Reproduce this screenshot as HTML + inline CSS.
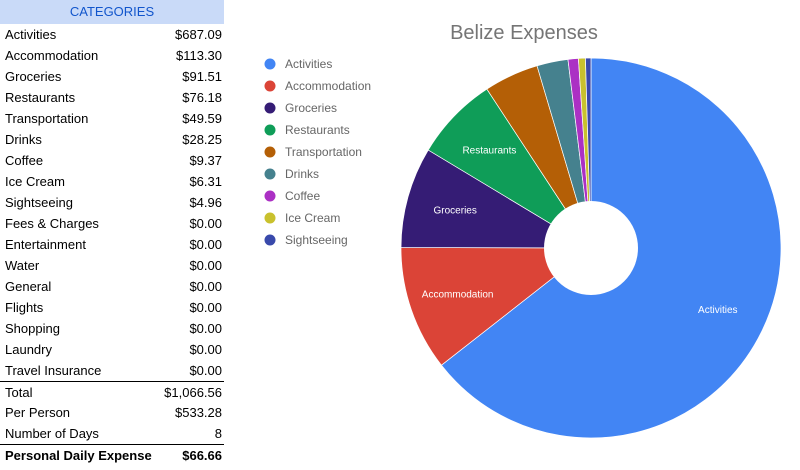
<!DOCTYPE html>
<html><head><meta charset="utf-8"><style>
body{margin:0;width:800px;height:470px;background:#fff;font-family:"Liberation Sans",Arial,sans-serif;overflow:hidden;position:relative}
#tbl{position:absolute;left:0;top:0;width:224px}
.hdr{height:24px;background:#c9daf8;color:#1155cc;text-align:center;font-size:13px;line-height:24px}
.row{height:21px;display:flex;justify-content:space-between;font-size:13px;line-height:21px;padding:0 2px 0 5px;color:#000}
.bt{border-top:1.5px solid #000}
.b{font-weight:bold}
svg{position:absolute;left:0;top:0}
</style></head><body>
<div id="tbl"></div>
<svg id="chart" width="800" height="470"></svg>
<script>
const categories=["Activities","Accommodation","Groceries","Restaurants","Transportation","Drinks","Coffee","Ice Cream","Sightseeing","Fees & Charges","Entertainment","Water","General","Flights","Shopping","Laundry","Travel Insurance"];
const values=[687.09,113.30,91.51,76.18,49.59,28.25,9.37,6.31,4.96,0,0,0,0,0,0,0,0];
const colors=["#4285f4","#db4437","#351c75","#0f9d58","#b45f06","#45818e","#ab30c4","#c9c12d","#3949ab"];
const summary=[["Total","$1,066.56"],["Per Person","$533.28"],["Number of Days","8"],["Personal Daily Expense","$66.66"]];
const tbl=document.getElementById('tbl');
const fmt=v=>'$'+v.toFixed(2);
let h=document.createElement('div');h.className='hdr';h.textContent='CATEGORIES';


tbl.appendChild(h);
categories.forEach((c,i)=>{const r=document.createElement('div');r.className='row';


r.innerHTML='<span>'+c.replace('&','&amp;')+'</span><span>'+fmt(values[i])+'</span>';tbl.appendChild(r);});
summary.forEach((s,i)=>{const r=document.createElement('div');r.className='row'+(i==0||i==3?' bt':'')+(i==3?' b':'');
if(i==0||i==3)r.style.height='20px';


r.innerHTML='<span>'+s[0]+'</span><span>'+s[1]+'</span>';tbl.appendChild(r);});
const svg=document.getElementById('chart'),NS='http://www.w3.org/2000/svg';
function el(t,a){const e=document.createElementNS(NS,t);for(const k in a)e.setAttribute(k,a[k]);svg.appendChild(e);return e;}
const t=el('text',{x:524,y:39,'text-anchor':'middle','font-size':20,fill:'#757575'});t.textContent='Belize Expenses';


const cx=591,cy=248,R=190,r0=47;
const total=values.reduce((a,b)=>a+b,0);
let a=0;
const pt=(ang,rad)=>[cx+Math.sin(ang)*rad,cy-Math.cos(ang)*rad];
values.forEach((v,i)=>{if(v<=0)return;const a1=a+v/total*2*Math.PI;
const [x0,y0]=pt(a,R),[x1,y1]=pt(a1,R),large=(a1-a)>Math.PI?1:0;
const p=el('path',{d:`M${cx},${cy}L${x0},${y0}A${R},${R} 0 ${large} 1 ${x1},${y1}Z`,fill:colors[i],stroke:'#fff','stroke-width':0.7});


if(v/total>0.05){const [lx,ly]=pt((a+a1)/2,141);const l=el('text',{x:lx,y:ly+3.5,'text-anchor':'middle','font-size':10,fill:'#fff'});l.textContent=categories[i];

}
a=a1;});
const hole=el('circle',{cx:cx,cy:cy,r:r0,fill:'#fff'});


values.forEach((v,i)=>{if(v<=0)return;const y=64+i*22;
const d=el('circle',{cx:270,cy:y,r:5.5,fill:colors[i]});


const lt=el('text',{x:285,y:y+4,'font-size':12,fill:'#666'});lt.textContent=categories[i];

});
</script>
</body></html>
